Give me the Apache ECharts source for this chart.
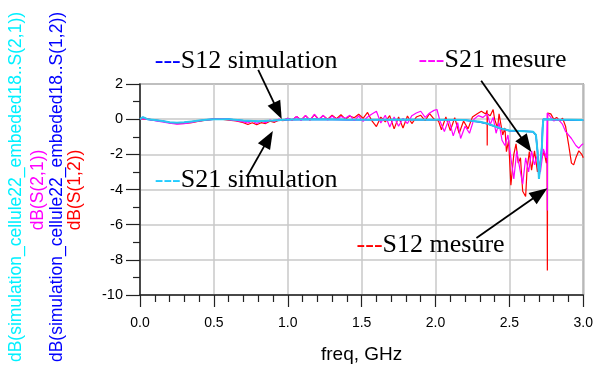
<!DOCTYPE html>
<html>
<head>
<meta charset="utf-8">
<script src="https://cdn.jsdelivr.net/npm/echarts@6/dist/echarts.min.js"></script>
<style>
body { margin: 0; background: #fff; }
#chart { width: 596px; height: 369px; }
</style>
</head>
<body>
<div id="chart"></div>
<script>
// S12 mesure (red)
const s12MeasFreq = [0,0.05,0.1,0.15,0.2,0.25,0.3,0.35,0.4,0.45,0.5,0.55,0.6,0.65,0.7,0.73,0.76,0.79,0.82,0.85,0.88,0.91,0.94,0.97,
  1.0,1.03,1.06,1.09,1.12,1.15,1.18,1.21,1.24,1.27,1.3,1.33,1.36,1.39,1.42,1.45,1.48,1.51,1.54,1.57,1.6,1.63,1.66,1.69,1.72,1.75,1.78,1.81,1.84,1.87,1.9,1.93,1.96,1.99,
  2.02,2.04,2.07,2.1,2.13,2.16,2.19,2.22,2.25,2.28,2.31,2.34,2.349,2.35,2.351,2.37,2.39,2.4,2.42,2.43,2.455,2.47,2.48,2.495,2.51,2.53,2.545,2.56,2.575,2.59,2.61,2.62,2.635,2.65,2.67,2.69,2.71,2.735,2.75,
  2.755,2.757,2.759,2.78,2.8,2.82,2.84,2.86,2.88,2.9,2.92,2.935,2.95,2.97,2.99,3.0];
const s12MeasDb = [0.02,0,-0.05,-0.12,-0.2,-0.26,-0.24,-0.2,-0.12,-0.05,0,0,-0.05,-0.1,-0.2,-0.3,-0.2,-0.32,-0.2,-0.25,-0.12,-0.18,-0.05,-0.08,
  0.05,-0.05,0.15,-0.05,0.2,-0.05,0.25,-0.02,0.2,0,0.22,0.02,0.25,0,0.18,0.08,0.28,0.05,0.38,-0.1,-0.42,0.12,-0.15,0.2,-0.55,0.12,-0.5,0.18,-0.25,0.12,0.22,-0.08,0.32,0,
  -0.1,-0.6,0.12,-0.65,0.08,-0.8,-0.1,-0.55,0.12,0.3,0.45,0.3,0.5,-1.5,0.3,0.2,0.55,0,-0.5,0.3,-0.9,-0.5,-1.85,-1.2,-3.75,-2.0,-1.4,-2.5,-2.2,-4.1,-4.4,-2.8,-1.85,-2.9,-1.8,-3.0,-2.4,-1.85,-2.5,
  -2.0,-8.6,0.35,0.3,0,0.1,-0.1,0.05,-0.4,-1.4,-2.5,-2.6,-2.2,-1.8,-2.0,-2.2];

// S21 mesure (magenta)
const s21MeasFreq = [0,0.05,0.1,0.15,0.2,0.25,0.3,0.35,0.4,0.45,0.5,0.55,0.6,0.65,0.7,0.73,0.76,0.79,0.82,0.85,0.88,0.91,0.94,0.97,
  1.0,1.03,1.06,1.09,1.12,1.15,1.18,1.21,1.24,1.27,1.3,1.33,1.36,1.39,1.42,1.45,1.48,1.51,1.54,1.57,1.6,1.63,1.66,1.69,1.72,1.75,1.78,1.81,1.84,1.87,1.9,1.93,1.96,1.99,
  2.01,2.03,2.06,2.09,2.12,2.15,2.17,2.2,2.23,2.26,2.29,2.32,2.35,2.37,2.39,2.41,2.43,2.45,2.47,2.49,2.51,2.53,2.55,2.57,2.59,2.61,2.63,2.65,2.67,2.69,2.71,2.73,2.75,
  2.756,2.757,2.758,2.78,2.8,2.83,2.86,2.88,2.9,2.92,2.95,2.97,2.99,3.0];
const s21MeasDb = [0.03,0,-0.08,-0.15,-0.22,-0.28,-0.25,-0.18,-0.1,-0.04,0,0.02,-0.03,-0.08,-0.15,-0.22,-0.1,-0.25,-0.12,-0.2,-0.05,-0.12,0,-0.05,
  0.05,-0.05,0.15,-0.08,0.22,-0.06,0.28,-0.02,0.22,-0.05,0.18,-0.02,0.15,0.05,0.22,-0.08,0.18,-0.12,0.12,0.3,0.45,-0.22,0.22,-0.45,0.12,-0.4,0.05,-0.25,0.2,0.35,0.45,0.1,0.35,0.5,
  0.55,-0.1,-0.7,0,-0.95,-0.2,-1.1,-0.4,-0.8,0,0.2,0.1,0.3,-0.3,0.1,-0.8,-0.2,-1.2,-1.5,-0.9,-2.2,-3.4,-1.8,-2.8,-3.7,-2.2,-3.0,-1.8,-2.6,-2.0,-3.0,-1.7,-2.2,
  0.35,-5.2,0.35,0.1,-0.1,0,-0.3,-0.7,-0.9,-1.1,-1.5,-1.65,-1.45,-1.4];

// S21 simulation (cyan)
const s21SimFreq = [0,0.02,0.05,0.1,0.15,0.2,0.25,0.3,0.35,0.4,0.45,0.5,0.6,0.7,0.8,0.9,1.0,1.2,1.4,1.6,1.8,2.0,2.2,2.3,2.35,2.41,2.45,2.5,2.57,2.66,2.68,2.69,2.7,2.71,2.72,2.725,2.73,2.8,3.0];
const s21SimDb = [0,0.12,0,-0.05,-0.1,-0.18,-0.2,-0.18,-0.13,-0.08,-0.03,0,0,-0.08,-0.12,-0.08,-0.02,0,-0.02,-0.03,-0.02,-0.03,-0.05,-0.15,-0.25,-0.43,-0.55,-0.65,-0.67,-0.71,-0.9,-1.8,-3.4,-2.5,-1.56,-0.5,0,-0.02,-0.05];

// S12 simulation (blue), almost on top of S21 simulation
const s12SimFreq = [0,0.02,0.05,0.1,0.15,0.2,0.25,0.3,0.35,0.4,0.45,0.5,0.6,0.7,0.8,0.9,1.0,1.2,1.4,1.6,1.8,2.0,2.2,2.3,2.35,2.41,2.45,2.5,2.57,2.66,2.68,2.69,2.7,2.71,2.72,2.725,2.73,2.8,3.0];
const s12SimDb = [0,0.1,0,-0.06,-0.11,-0.19,-0.21,-0.19,-0.14,-0.09,-0.04,0,0,-0.09,-0.13,-0.09,-0.03,0,-0.03,-0.04,-0.03,-0.04,-0.06,-0.16,-0.26,-0.44,-0.56,-0.66,-0.68,-0.72,-0.92,-1.8,-3.35,-2.5,-1.55,-0.5,0,-0.03,-0.06];

const yNames = [
  { text: 'dB(simulation_cellule22_embeded18..S(2,1))', color: '#00f0ff', x: 16, y: 187 },
  { text: 'dB(S(2,1))', color: '#ff00ff', x: 38, y: 190 },
  { text: 'dB(simulation_cellule22_embeded18..S(1,2))', color: '#0000ff', x: 57, y: 187 },
  { text: 'dB(S(1,2))', color: '#ff0000', x: 75, y: 190 }
];

// annotations in data coords: [freq, dB]
const noteLabels = [
  { text: 'S12 simulation', color: '#0000ff', at: [0.10, 3.31] },
  { text: 'S21 mesure', color: '#ff00ff', at: [1.885, 3.37] },
  { text: 'S21 simulation', color: '#22ccff', at: [0.10, -3.49] },
  { text: 'S12 mesure', color: '#ff0000', at: [1.466, -7.16] }
];
const noteArrows = [
  [[0.80, 2.8], [0.959, 0.01]],
  [[0.723, -3.29], [0.899, -0.67]],
  [[2.309, 2.19], [2.649, -1.87]],
  [[2.277, -6.76], [2.757, -3.93]]
];

function zip(a, b) {
  return a.map(function (v, i) { return [v, b[i]]; });
}

let chart = echarts.init(document.getElementById('chart'), null, { renderer: 'canvas' });

let opt = {
  animation: false,
  backgroundColor: '#fff',
  grid: {
    left: 140, right: 11, top: 84, bottom: 74,
    show: true, borderColor: '#888', borderWidth: 1.5
  },
  xAxis: {
    type: 'value', min: 0, max: 3, interval: 0.5,
    name: 'freq, GHz', nameLocation: 'middle', nameGap: 50,
    nameTextStyle: { fontFamily: 'Liberation Sans', fontSize: 19, color: '#000' },
    axisLine: { onZero: false, lineStyle: { color: '#222', width: 1.5 } },
    axisTick: { inside: false, length: 12, lineStyle: { color: '#222', width: 1.2 } },
    minorTick: { show: true, splitNumber: 5, length: 7, lineStyle: { color: '#222', width: 1.2 } },
    axisLabel: {
      fontFamily: 'Liberation Sans', fontSize: 14, color: '#000', margin: 21,
      formatter: function (v) { return v.toFixed(1); }
    },
    splitLine: { show: true, lineStyle: { color: '#c8c8c8', width: 1.5 } }
  },
  yAxis: {
    type: 'value', min: -10, max: 2, interval: 2,
    axisLine: { show: true, onZero: false, lineStyle: { color: '#222', width: 1.5 } },
    axisTick: { show: true, inside: false, length: 14, lineStyle: { color: '#222', width: 1.2 } },
    minorTick: { show: true, splitNumber: 2, length: 7, lineStyle: { color: '#222', width: 1.2 } },
    axisLabel: { fontFamily: 'Liberation Sans', fontSize: 14.5, color: '#000', margin: 17 },
    splitLine: { show: true, lineStyle: { color: '#c8c8c8', width: 1.5 } }
  },
  series: [
    { name: 'S12 simulation', type: 'line', data: zip(s12SimFreq, s12SimDb), symbol: 'none',
      lineStyle: { color: '#0000ff', width: 1.5 }, z: 2 },
    { name: 'S12 mesure', type: 'line', data: zip(s12MeasFreq, s12MeasDb), symbol: 'none',
      lineStyle: { color: '#ff0000', width: 1.2 }, z: 3 },
    { name: 'S21 mesure', type: 'line', data: zip(s21MeasFreq, s21MeasDb), symbol: 'none',
      lineStyle: { color: '#ff00ff', width: 1.2 }, z: 4 },
    { name: 'S21 simulation', type: 'line', data: zip(s21SimFreq, s21SimDb), symbol: 'none',
      lineStyle: { color: '#28c8f0', width: 2 }, z: 5 }
  ]
};

chart.setOption(opt);

// text + arrows placed through the grid's own scale
let gfx = [];
yNames.forEach(function (n) {
  gfx.push({
    type: 'text', x: n.x, y: n.y, rotation: Math.PI / 2, z: 10,
    style: {
      text: n.text, fill: n.color, font: '17.5px "Liberation Sans"',
      textAlign: 'center', textVerticalAlign: 'middle'
    }
  });
});
noteLabels.forEach(function (n) {
  let p = chart.convertToPixel({ gridIndex: 0 }, n.at);
  gfx.push({
    type: 'text', x: p[0], y: p[1], z: 20,
    style: {
      text: '{d|---}{t|' + n.text + '}',
      font: '26px "Liberation Serif"',
      textAlign: 'left', textVerticalAlign: 'middle',
      rich: {
        d: { fill: n.color, font: '26px "Liberation Serif"' },
        t: { fill: '#000', font: '26px "Liberation Serif"' }
      }
    }
  });
});
noteArrows.forEach(function (a) {
  let s = chart.convertToPixel({ gridIndex: 0 }, a[0]);
  let t = chart.convertToPixel({ gridIndex: 0 }, a[1]);
  let dx = t[0] - s[0], dy = t[1] - s[1];
  let len = Math.sqrt(dx * dx + dy * dy);
  let ux = dx / len, uy = dy / len;
  let hl = 18, hw = 7;
  let bx = t[0] - ux * hl, by = t[1] - uy * hl;
  gfx.push({
    type: 'line', z: 21,
    shape: { x1: s[0], y1: s[1], x2: bx + ux * 2, y2: by + uy * 2 },
    style: { stroke: '#000', lineWidth: 1.8 }
  });
  gfx.push({
    type: 'polygon', z: 21,
    shape: { points: [[t[0], t[1]], [bx - uy * hw, by + ux * hw], [bx + uy * hw, by - ux * hw]] },
    style: { fill: '#000' }
  });
});
chart.setOption({ graphic: gfx });
</script>
</body>
</html>
